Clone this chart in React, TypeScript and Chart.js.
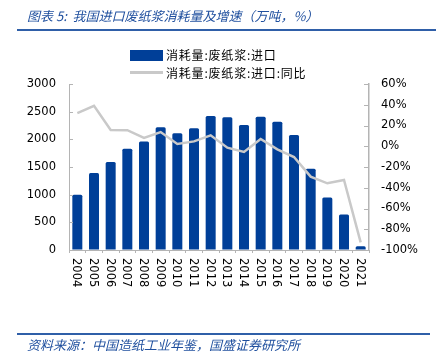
import React, { useEffect, useRef } from "react";
import { Chart, registerables } from "chart.js";

Chart.register(...registerables);

const years = ["2004","2005","2006","2007","2008","2009","2010","2011","2012","2013","2014","2015","2016","2017","2018","2019","2020","2021"];
const volume = [1000,1390,1590,1830,1960,2220,2110,2200,2420,2400,2260,2410,2320,2080,1470,950,640,70];
const yoy = [32,39,15.7,15.5,8,13.7,2.2,4.7,10.5,-1.4,-5.5,7,-3,-10.4,-29.3,-35.7,-32.5,-92.6];
const barLabel = "消耗量:废纸浆:进口";
const lineLabel = "消耗量:废纸浆:进口:同比";
const title = "图表 5:  我国进口废纸浆消耗量及增速（万吨，%）";
const source = "资料来源：中国造纸工业年鉴，国盛证券研究所";

const BLUE = "#003f98";
const GRAY_LINE = "#c9c9c9";
const AXIS = "#b4b4b4";
const FONT = "'DejaVu Sans', Verdana, sans-serif";

const innerTicks = {
  id: "innerTicks",
  afterDraw(chart: any) {
    const ctx = chart.ctx;
    const { y, y1, x } = chart.scales;
    ctx.save();
    ctx.strokeStyle = AXIS;
    ctx.lineWidth = 1;
    ctx.beginPath();
    y.ticks.forEach((_t: any, i: number) => {
      const py = Math.round(y.getPixelForTick(i)) + 0.5;
      ctx.moveTo(y.right, py);
      ctx.lineTo(y.right + 4, py);
    });
    y1.ticks.forEach((_t: any, i: number) => {
      const py = Math.round(y1.getPixelForTick(i)) + 0.5;
      ctx.moveTo(y1.left - 5, py);
      ctx.lineTo(y1.left, py);
    });
    ctx.stroke();
    // rotated x labels reading top-to-bottom
    ctx.fillStyle = "#000";
    ctx.font = `11.5px ${FONT}`;
    ctx.textAlign = "left";
    ctx.textBaseline = "middle";
    x.ticks.forEach((_t: any, i: number) => {
      const px = x.getPixelForTick(i);
      ctx.save();
      ctx.translate(px - 1, x.top + 8);
      ctx.rotate(Math.PI / 2);
      ctx.fillText(String(x.getLabelForValue(i)), 0, 0);
      ctx.restore();
    });
    ctx.restore();
  },
};

export default function App() {
  const ref = useRef<HTMLCanvasElement | null>(null);
  useEffect(() => {
    if (!ref.current) return;
    const chart = new Chart(ref.current, {
      type: "bar",
      data: {
        labels: years,
        datasets: [
          {
            type: "line",
            label: lineLabel,
            data: yoy,
            yAxisID: "y1",
            borderColor: GRAY_LINE,
            backgroundColor: GRAY_LINE,
            borderWidth: 2.5,
            pointRadius: 0,
            tension: 0,
            order: 0,
          } as any,
          {
            type: "bar",
            label: barLabel,
            data: volume,
            yAxisID: "y",
            backgroundColor: BLUE,
            barPercentage: 0.6,
            categoryPercentage: 1,
            borderRadius: { topLeft: 1.5, topRight: 1.5 },
            order: 1,
          } as any,
        ],
      },
      options: {
        responsive: false,
        animation: false,
        layout: { padding: { left: 0, right: 0, top: 84, bottom: 64 } },
        plugins: { legend: { display: false }, tooltip: { enabled: false } },
        scales: {
          x: {
            offset: true,
            grid: { display: true, drawOnChartArea: false, drawTicks: true, tickLength: 3, color: AXIS, offset: true },
            border: { display: true, color: AXIS, width: 1 },
            ticks: { display: false },
            afterFit: (s: any) => { s.height = 40; },
          },
          y: {
            position: "left",
            min: 0,
            max: 3000,
            grid: { display: true, drawOnChartArea: false, drawTicks: false },
            border: { display: true, color: AXIS, width: 1 },
            ticks: { stepSize: 500, padding: 13, color: "#000", font: { family: FONT, size: 11.5 }, callback: (v: any) => String(v) },
            afterFit: (s: any) => { s.width = 69; },
          },
          y1: {
            position: "right",
            min: -100,
            max: 60,
            grid: { display: true, drawOnChartArea: false, drawTicks: false },
            border: { display: true, color: AXIS, width: 1.5 },
            ticks: { stepSize: 20, padding: 12, color: "#000", font: { family: FONT, size: 11.5 }, callback: (v: any) => v + "%" },
            afterFit: (s: any) => { s.width = 67; },
          },
        },
      },
      plugins: [innerTicks],
    } as any);
    return () => chart.destroy();
  }, []);

  const cjk = "'Noto Sans CJK SC', sans-serif";
  return (
    <div style={{ position: "fixed", left: 0, top: 0, width: 436, height: 354, background: "#fff", overflow: "hidden" }}>
      <canvas ref={ref} width={436} height={354} style={{ position: "absolute", left: 0, top: 0, width: 436, height: 354 }} />
      <div style={{ position: "absolute", left: 27, top: 6, fontFamily: cjk, fontStyle: "italic", fontSize: 13, color: "#1f4f9e", whiteSpace: "pre", lineHeight: "19px" }}>{title}</div>
      <div style={{ position: "absolute", left: 17, top: 29, width: 419, height: 2, background: "#2f5fa8" }} />
      <div style={{ position: "absolute", left: 130, top: 50, width: 33, height: 11, background: BLUE }} />
      <div style={{ position: "absolute", left: 166, top: 46, fontFamily: cjk, fontSize: 12, letterSpacing: 0.8, color: "#000", whiteSpace: "pre", lineHeight: "18px" }}>{barLabel}</div>
      <div style={{ position: "absolute", left: 130, top: 71, width: 33, height: 2.5, background: GRAY_LINE }} />
      <div style={{ position: "absolute", left: 166, top: 64, fontFamily: cjk, fontSize: 12, letterSpacing: 0.8, color: "#000", whiteSpace: "pre", lineHeight: "18px" }}>{lineLabel}</div>
      <div style={{ position: "absolute", left: 17, top: 333, width: 413, height: 2, background: "#2f5fa8" }} />
      <div style={{ position: "absolute", left: 27, top: 336, fontFamily: cjk, fontStyle: "italic", fontSize: 13, color: "#1f4f9e", whiteSpace: "pre", lineHeight: "18px" }}>{source}</div>
    </div>
  );
}
